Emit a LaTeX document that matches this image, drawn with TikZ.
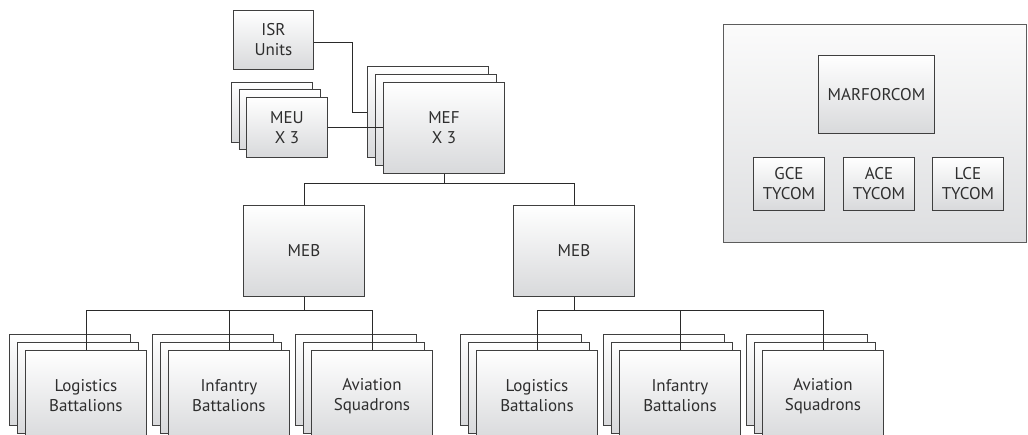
\documentclass[tikz,border=0pt]{standalone}
\usepackage{fontspec}
\setmainfont{PT Sans}
\usetikzlibrary{calc}
\definecolor{boxline}{HTML}{3F3F3F}
\definecolor{boxbot}{HTML}{D8D9DB}
\definecolor{paneltop}{HTML}{FBFBFB}
\definecolor{panelbot}{HTML}{DDDEE0}
\definecolor{txt}{HTML}{2E2E2E}
\definecolor{conn}{HTML}{2A2A2A}
\newcommand\stk[8]{%
  \node[gbox,minimum width=#4,minimum height=#5] (#1b1) at (#2-#6,#3-#6) {};
  \node[gbox,minimum width=#4,minimum height=#5] (#1b2) at (#2-#7,#3-#7) {};
  \node[gbox,minimum width=#4,minimum height=#5] (#1) at (#2,#3) {#8};
}
\tikzset{
  gbox/.style={draw=boxline, line width=0.9pt, top color=white, bottom color=boxbot,
    text=txt, align=center, inner sep=0pt, anchor=north west,
    font=\fontsize{17}{20}\selectfont},
  panel/.style={draw=boxline!85, line width=0.9pt, top color=paneltop, bottom color=panelbot,
    inner sep=0pt, anchor=north west},
  link/.style={draw=conn, line width=0.8pt}
}
\begin{document}
\begin{tikzpicture}[x=1pt,y=-1pt]
\clip (0,0) rectangle (1028,435);
\fill[white] (0,0) rectangle (1028,435);
% right panel
\node[panel,minimum width=303,minimum height=218] (panel) at (723,24) {};
\node[gbox,minimum width=116,minimum height=78] (marfor) at (818,55) {MARFORCOM};
\node[gbox,minimum width=71,minimum height=53] (gce) at (753,157) {GCE\\TYCOM};
\node[gbox,minimum width=71,minimum height=53] (ace) at (843,157) {ACE\\TYCOM};
\node[gbox,minimum width=71,minimum height=53] (lce) at (932,157) {LCE\\TYCOM};
% top
\node[gbox,minimum width=80,minimum height=59] (isr) at (233,10) {ISR\\Units};
\stk{meu}{246}{97}{81}{60}{15}{7.5}{MEU\\X 3}
\stk{mef}{383}{82}{121}{91}{16}{8}{MEF\\X 3}
\node[gbox,minimum width=121,minimum height=91] (mebL) at (243,205) {MEB};
\node[gbox,minimum width=121,minimum height=91] (mebR) at (513,205) {MEB};
% bottom stacks
\stk{logL}{25}{350}{121}{91}{16}{8}{Logistics\\Battalions}
\stk{infL}{168}{350}{121}{91}{16}{8}{Infantry\\Battalions}
\stk{avL}{311}{350}{121}{91}{16}{8}{Aviation\\Squadrons}
\stk{logR}{476}{350}{121}{91}{16}{8}{Logistics\\Battalions}
\stk{infR}{619}{350}{121}{91}{16}{8}{Infantry\\Battalions}
\stk{avR}{762}{350}{121}{91}{16}{8}{Aviation\\Squadrons}
% connectors
\coordinate (isrbend) at ($(mefb1.west)+(-15,0)$);
\draw[link] ([yshift=-2pt]isr.east) -| (isrbend) -- (mefb1.west);
\draw[link] (meu.east) -- (mef.west |- meu.east);
\coordinate (j1) at ($(mef.south)+(0,10)$);
\draw[link] (mef.south) -- (j1);
\draw[link] (mebL.north) |- (j1) -| (mebR.north);
\coordinate (j2) at ($(mebL.south)+(0,14)$);
\draw[link] (mebL.south) -- (j2);
\draw[link] (logL.north) |- (j2) -| (avL.north);
\draw[link] (infL.north) -- (infL.north |- j2);
\coordinate (j3) at ($(mebR.south)+(0,14)$);
\draw[link] (mebR.south) -- (j3);
\draw[link] (logR.north) |- (j3) -| (avR.north);
\draw[link] (infR.north) -- (infR.north |- j3);
\end{tikzpicture}
\end{document}
